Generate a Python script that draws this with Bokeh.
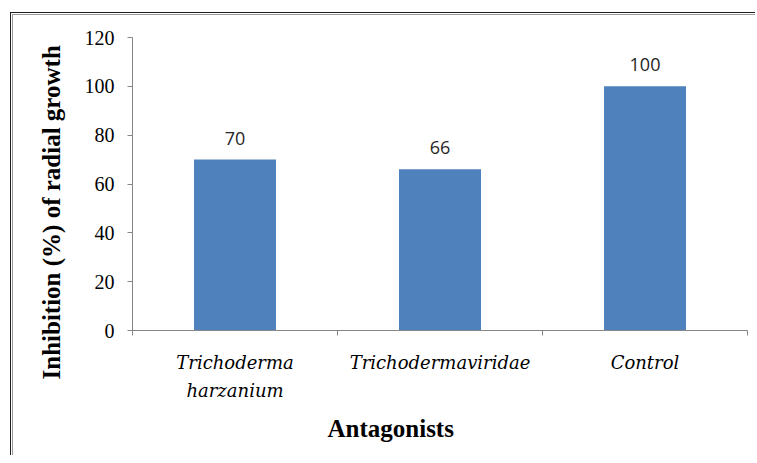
from bokeh.plotting import figure
from bokeh.layouts import column
from bokeh.models import (ColumnDataSource, FactorRange, Range1d, LinearAxis,
                          FixedTicker, LabelSet, Title)
from bokeh.core.properties import value
from bokeh.embed import file_html
from bokeh.resources import INLINE

# ---- data ----
categories = ["Trichoderma harzanium", "Trichodermaviridae", "Control"]
tick_labels = ["Trichoderma\nharzanium", "Trichodermaviridae", "Control"]
inhibition = [70, 66, 100]
y_ticks = [0, 20, 40, 60, 80, 100, 120]
y_title = "Inhibition (%) of radial growth"
x_title = "Antagonists"

BAR = "#4f81bd"
AXIS = "#868686"

source = ColumnDataSource(dict(cat=categories, val=inhibition,
                               txt=[str(v) for v in inhibition]))

p = figure(x_range=FactorRange(factors=categories, range_padding=0),
           y_range=Range1d(0, 120),
           width=755, height=455, output_backend="svg", toolbar_location=None,
           x_axis_location=None, y_axis_location="left",
           min_border_left=132, min_border_right=8, min_border_top=37, min_border_bottom=125)
p.outline_line_color = None
p.background_fill_color = "white"
p.border_fill_color = None
p.xgrid.visible = False
p.ygrid.visible = False

p.vbar(x="cat", top="val", width=0.4, source=source, fill_color=BAR, line_color=None)

labels = LabelSet(x="cat", y="val", text="txt", source=source, y_offset=15,
                  text_align="center", text_baseline="alphabetic",
                  text_font=value("Open Sans"), text_font_size=value("18px"),
                  text_color="#262626")
p.add_layout(labels)

# y axis
ya = p.yaxis[0]
ya.ticker = FixedTicker(ticks=y_ticks)
ya.axis_line_color = AXIS
ya.major_tick_line_color = AXIS
ya.major_tick_out = 5
ya.major_tick_in = 0
ya.minor_tick_line_color = None
ya.major_label_standoff = 13
ya.major_label_text_font = "Liberation Serif"
ya.major_label_text_font_size = "20px"
ya.major_label_text_color = "black"

# x axis: labels at category centres, ticks at category boundaries
n = len(categories)
centres = [i + 0.5 for i in range(n)]
xa = LinearAxis(ticker=FixedTicker(ticks=centres, minor_ticks=list(range(n + 1))),
                major_label_overrides={c: t for c, t in zip(centres, tick_labels)})
xa.axis_line_color = AXIS
xa.major_tick_line_color = None
xa.major_tick_out = 0
xa.major_tick_in = 0
xa.minor_tick_line_color = AXIS
xa.minor_tick_out = 5
xa.minor_tick_in = 0
xa.major_label_standoff = 16
xa.major_label_text_font = "DejaVu Serif"
xa.major_label_text_font_style = "italic"
xa.major_label_text_font_size = "18px"
xa.major_label_text_line_height = 1.35
xa.major_label_text_color = "black"
p.add_layout(xa, "below")

# axis titles
p.add_layout(Title(text=y_title, align="left", offset=-49, standoff=34,
                   text_font="Liberation Serif", text_font_style="bold",
                   text_font_size="25px", text_color="black"), "left")
p.add_layout(Title(text=x_title, align="left", offset=195, standoff=20,
                   vertical_align="middle",
                   text_font="Liberation Serif", text_font_style="bold",
                   text_font_size="25px", text_color="black"), "below")

# chart-area border (only its left and top edges are inside the picture),
# painted on a wrapper behind the transparent plot border area
dark = "linear-gradient(#1e1e1e, #1e1e1e)"
grey = "linear-gradient(#9a9a9a, #9a9a9a)"
page = column(p, width=755, height=455, styles={
    "background-image": ", ".join([dark, dark, grey, grey]),
    "background-repeat": "no-repeat",
    "background-position": "10.2px 12.2px, 10.2px 12.2px, 11.6px 13.6px, 11.6px 13.6px",
    "background-size": "1.4px 100%, 100% 1.4px, 1.4px 100%, 100% 1.4px",
})

open("out.html", "w").write(file_html(page, INLINE))
